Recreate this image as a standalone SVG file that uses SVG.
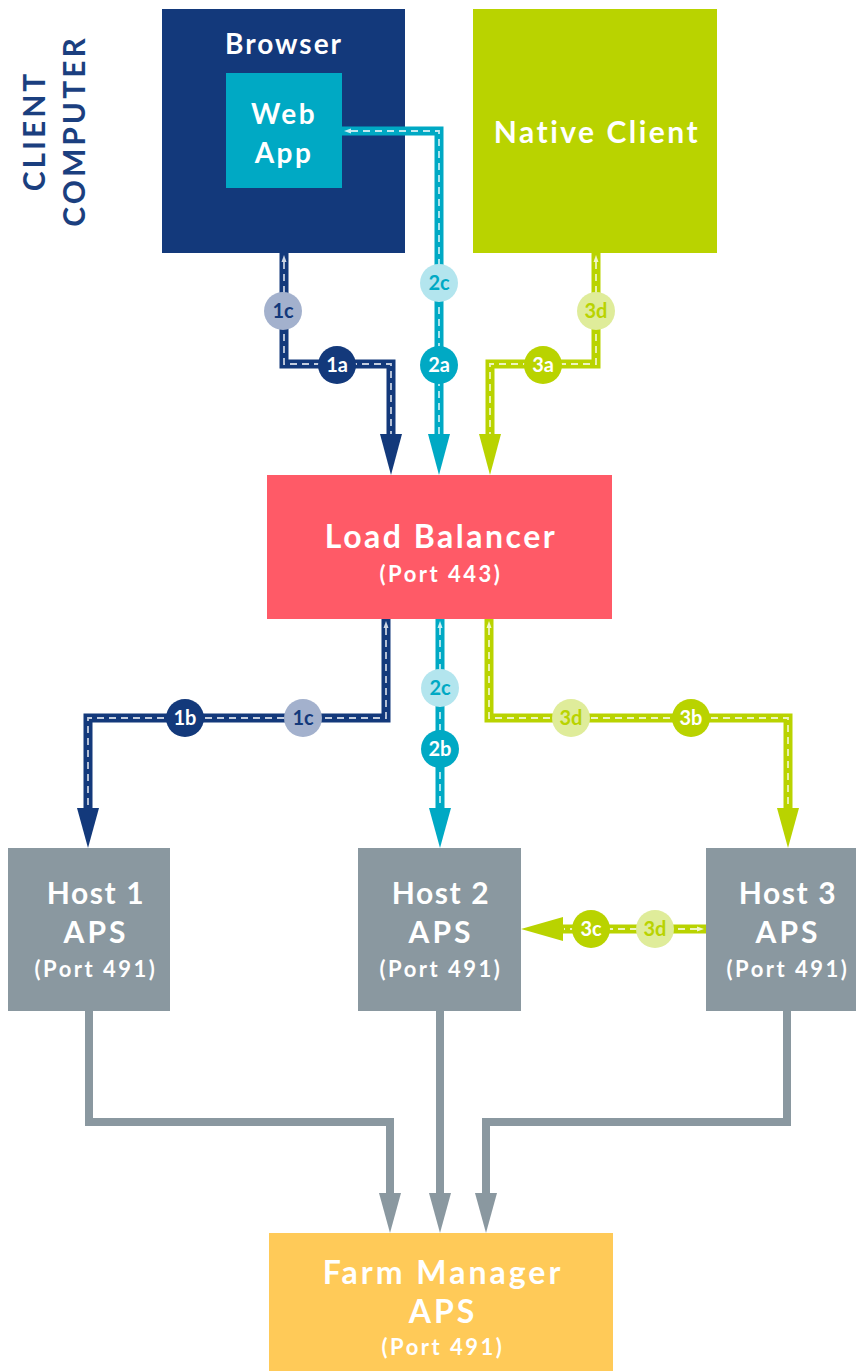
<svg xmlns="http://www.w3.org/2000/svg" width="856" height="1371" viewBox="0 0 856 1371">
<style>
  text { font-family: Lato, "Noto Sans", "Liberation Sans", sans-serif; font-weight: bold; text-anchor: middle; }
  .w { fill: #ffffff; }
  .big { font-size: 30px; letter-spacing: 1.6px; }
  .port { font-size: 22px; letter-spacing: 2.5px; }
  .lbl { font-size: 20px; letter-spacing: 0px; }
  .ln { fill: none; stroke-width: 9; stroke-linejoin: miter; }
  .dash { fill: none; stroke: #ffffff; stroke-opacity: 0.75; stroke-width: 1.8; stroke-dasharray: 7 5; }
  .navy { stroke: #13397B; } .cyan { stroke: #00A9C4; } .green { stroke: #B9D300; }
  .gray { fill: none; stroke: #8A98A0; stroke-width: 8; }
  .tip { fill: #ffffff; fill-opacity: 0.8; }
</style>

<g id="client-computer-label">
  <text transform="translate(45,131) rotate(-90)" style="font-size:30px;letter-spacing:3px;fill:#1B3F7F">CLIENT</text>
  <text transform="translate(85,131) rotate(-90)" style="font-size:30px;letter-spacing:3px;fill:#1B3F7F">COMPUTER</text>
</g>

<g id="browser">
  <rect x="162" y="9" width="243" height="244" fill="#13397B"/>
  <text x="284" y="54" class="w" style="font-size:28px;letter-spacing:2px">Browser</text>
</g>
<g id="web-app">
  <rect x="226" y="73" width="116" height="115" fill="#00A9C4"/>
  <text x="284" y="124" class="w" style="font-size:28px;letter-spacing:2.5px">Web</text>
  <text x="284" y="163" class="w" style="font-size:28px;letter-spacing:2.5px">App</text>
</g>
<g id="native-client">
  <rect x="473" y="9" width="244" height="244" fill="#B9D300"/>
  <text x="597" y="143" class="w" style="font-size:30px;letter-spacing:2.5px">Native Client</text>
</g>
<g id="load-balancer">
  <rect x="267" y="475" width="345" height="144" fill="#FF5A67"/>
  <text x="441" y="548" class="w" style="font-size:32px;letter-spacing:2.5px">Load Balancer</text>
  <text x="441" y="582" class="w port">(Port 443)</text>
</g>
<g id="host1">
  <rect x="8" y="848" width="162" height="163" fill="#8A98A0"/>
  <text x="96" y="904" class="w big">Host 1</text>
  <text x="96" y="943" class="w big" style="letter-spacing:3px">APS</text>
  <text x="96" y="977" class="w port">(Port 491)</text>
</g>
<g id="host2">
  <rect x="358" y="848" width="163" height="163" fill="#8A98A0"/>
  <text x="441" y="904" class="w big">Host 2</text>
  <text x="441" y="943" class="w big" style="letter-spacing:3px">APS</text>
  <text x="441" y="977" class="w port">(Port 491)</text>
</g>
<g id="host3">
  <rect x="706" y="848" width="162" height="163" fill="#8A98A0"/>
  <text x="788" y="904" class="w big">Host 3</text>
  <text x="788" y="943" class="w big" style="letter-spacing:3px">APS</text>
  <text x="788" y="977" class="w port">(Port 491)</text>
</g>
<g id="farm-manager">
  <rect x="269" y="1233" width="344" height="140" fill="#FFCA58"/>
  <text x="443" y="1284" class="w" style="font-size:32px;letter-spacing:3px">Farm Manager</text>
  <text x="443" y="1323" class="w" style="font-size:32px;letter-spacing:3px">APS</text>
  <text x="443" y="1355" class="w port">(Port 491)</text>
</g>

<g id="connectors">
  <!-- gray host to farm manager -->
  <path class="gray" d="M89 1011 V1122 H390 V1196"/>
  <polygon points="379,1193 401,1193 390,1233" fill="#8A98A0"/>
  <path class="gray" d="M440 1011 V1196"/>
  <polygon points="429,1193 451,1193 440,1233" fill="#8A98A0"/>
  <path class="gray" d="M787 1011 V1122 H486 V1196"/>
  <polygon points="475,1193 497,1193 486,1233" fill="#8A98A0"/>

  <!-- path 1 (navy) -->
  <path class="ln navy" d="M284 253 V364 H391 V437"/>
  <path class="dash" d="M284 262 V364 H391 V434"/>
  <polygon points="380,434 402,434 391,475" fill="#13397B"/>
  <polygon class="tip" points="281.5,262 286.5,262 284,255"/>
  <path class="ln navy" d="M386 619 V718 H88 V810"/>
  <path class="dash" d="M386 628 V718 H88 V806"/>
  <polygon points="77,808 99,808 88,848" fill="#13397B"/>
  <polygon class="tip" points="383.5,628 388.5,628 386,621"/>

  <!-- path 2 (cyan) -->
  <path class="ln cyan" d="M342 131 H439 V437"/>
  <path class="dash" d="M351 131 H439 V434"/>
  <polygon points="428,434 450,434 439,475" fill="#00A9C4"/>
  <polygon class="tip" points="351,128.5 351,133.5 344,131"/>
  <path class="ln cyan" d="M440 619 V810"/>
  <path class="dash" d="M440 628 V806"/>
  <polygon points="429,808 451,808 440,848" fill="#00A9C4"/>
  <polygon class="tip" points="437.5,628 442.5,628 440,621"/>

  <!-- path 3 (green) -->
  <path class="ln green" d="M596 253 V364 H490 V437"/>
  <path class="dash" d="M596 262 V364 H490 V434"/>
  <polygon points="479,434 501,434 490,475" fill="#B9D300"/>
  <polygon class="tip" points="593.5,262 598.5,262 596,255"/>
  <path class="ln green" d="M489 619 V718 H788 V810"/>
  <path class="dash" d="M489 628 V718 H788 V806"/>
  <polygon points="777,808 799,808 788,848" fill="#B9D300"/>
  <polygon class="tip" points="486.5,628 491.5,628 489,621"/>
  <path class="ln green" d="M706 929 H560"/>
  <path class="dash" d="M697 929 H564"/>
  <polygon points="563,917 563,941 521,929" fill="#B9D300"/>
  <polygon class="tip" points="697,926.5 697,931.5 704,929"/>

  <!-- step labels -->
  <circle cx="283" cy="311" r="19" fill="#A3B1CD"/><text x="283" y="318" class="lbl" fill="#13397B">1c</text>
  <circle cx="337" cy="365" r="19" fill="#13397B"/><text x="337" y="372" class="lbl w">1a</text>
  <circle cx="439" cy="283" r="19" fill="#B3E5EE"/><text x="439" y="290" class="lbl" fill="#00A9C4">2c</text>
  <circle cx="439" cy="365" r="19" fill="#00A9C4"/><text x="439" y="372" class="lbl w">2a</text>
  <circle cx="596" cy="311" r="19" fill="#DFEC9A"/><text x="596" y="318" class="lbl" fill="#B9D300">3d</text>
  <circle cx="543" cy="365" r="19" fill="#B9D300"/><text x="543" y="372" class="lbl w">3a</text>

  <circle cx="185" cy="718" r="19" fill="#13397B"/><text x="185" y="725" class="lbl w">1b</text>
  <circle cx="303" cy="718" r="19" fill="#A3B1CD"/><text x="303" y="725" class="lbl" fill="#13397B">1c</text>
  <circle cx="440" cy="688" r="19" fill="#B3E5EE"/><text x="440" y="695" class="lbl" fill="#00A9C4">2c</text>
  <circle cx="440" cy="749" r="19" fill="#00A9C4"/><text x="440" y="756" class="lbl w">2b</text>
  <circle cx="571" cy="718" r="19" fill="#DFEC9A"/><text x="571" y="725" class="lbl" fill="#B9D300">3d</text>
  <circle cx="691" cy="718" r="19" fill="#B9D300"/><text x="691" y="725" class="lbl w">3b</text>
  <circle cx="591" cy="929" r="19" fill="#B9D300"/><text x="591" y="936" class="lbl w">3c</text>
  <circle cx="655" cy="929" r="19" fill="#DFEC9A"/><text x="655" y="936" class="lbl" fill="#B9D300">3d</text>
</g>
</svg>
